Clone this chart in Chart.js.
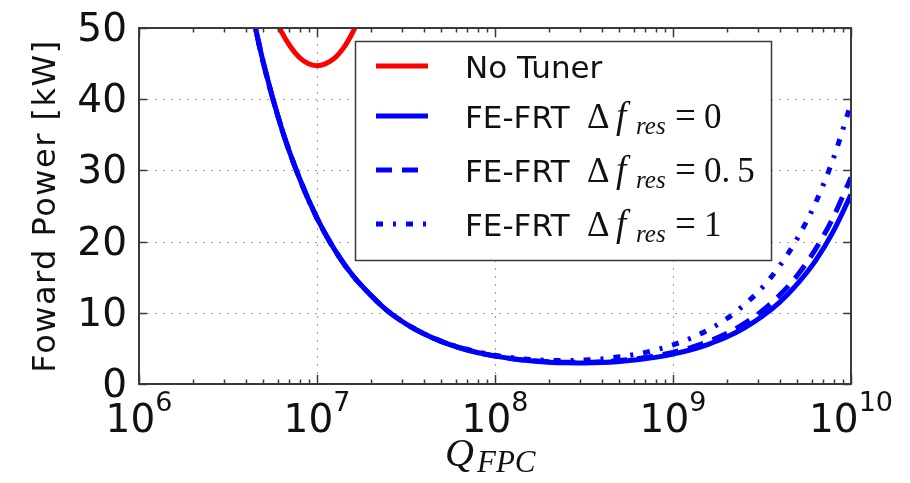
<!DOCTYPE html>
<html>
<head>
<meta charset="utf-8">
<script src="https://cdn.jsdelivr.net/npm/chart.js@4.4.0/dist/chart.umd.min.js"></script>
<style>
  html, body { margin: 0; padding: 0; background: #fff; }
  canvas { display: block; }
</style>
</head>
<body>
<canvas id="powerChart" width="910" height="483"></canvas>
<script>
// Q_FPC sample points (0.1 decade steps) for the FE-FRT curves
const qFpc = [
  3.98e6, 5.01e6, 6.31e6, 7.94e6, 1e7, 1.26e7, 1.58e7, 2.00e7, 2.51e7, 3.16e7,
  3.98e7, 5.01e7, 6.31e7, 7.94e7, 1e8, 1.26e8, 1.58e8, 2.00e8, 2.51e8, 3.16e8,
  3.98e8, 5.01e8, 6.31e8, 7.94e8, 1e9, 1.26e9, 1.58e9, 2.00e9, 2.51e9, 3.16e9,
  3.98e9, 5.01e9, 6.31e9, 7.94e9, 1e10
];
// forward power [kW], FE-FRT with Δf_res = 0 / 0.5 / 1
const powerDf0 = [
  56.3, 45.0, 36.0, 29.0, 23.3, 18.8, 15.3, 12.5, 10.2, 8.45,
  7.05, 5.95, 5.09, 4.42, 3.91, 3.53, 3.25, 3.07, 2.98, 2.96,
  3.02, 3.17, 3.40, 3.74, 4.20, 4.81, 5.58, 6.59, 7.86, 9.47,
  11.5, 14.1, 17.3, 21.4, 26.6
];
const powerDf05 = [
  56.3, 45.0, 36.0, 29.0, 23.3, 18.8, 15.3, 12.5, 10.2, 8.46,
  7.06, 5.96, 5.10, 4.44, 3.93, 3.56, 3.29, 3.12, 3.04, 3.04,
  3.12, 3.29, 3.56, 3.94, 4.45, 5.12, 5.97, 7.08, 8.48, 10.25,
  12.5, 15.3, 18.9, 23.4, 29.0
];
const powerDf1 = [
  56.3, 45.0, 36.0, 29.0, 23.3, 18.8, 15.3, 12.5, 10.2, 8.47,
  7.08, 6.00, 5.15, 4.52, 4.04, 3.69, 3.45, 3.33, 3.30, 3.37,
  3.53, 3.82, 4.21, 4.76, 5.49, 6.43, 7.62, 9.16, 11.1, 13.5,
  16.6, 20.5, 25.4, 31.6, 39.4
];
// No Tuner: only the part near its minimum fits under 50 kW
const qNoTuner = [5.01e6, 5.62e6, 6.31e6, 7.08e6, 7.94e6, 8.91e6, 1e7, 1.12e7, 1.26e7, 1.41e7, 1.58e7, 1.78e7];
const powerNoTuner = [55.6, 52.2, 49.5, 47.4, 45.9, 45.0, 44.7, 45.0, 45.8, 47.2, 49.3, 52.0];

const xDecades = [6, 7, 8, 9, 10];
const yTicks = [0, 10, 20, 30, 40, 50];
const legendNames = ['No Tuner', 'FE-FRT', 'FE-FRT', 'FE-FRT'];
const legendDf = [null, '0', '0.\u20095', '1'];

const SANS = '"DejaVu Sans", sans-serif';
const SERIF = '"Liberation Serif", "DejaVu Serif", serif';

const toPoints = (xs, ys) => xs.map((x, i) => ({ x, y: ys[i] }));

// grid, inward ticks, frame, labels and the legend box
const decorations = {
  id: 'decorations',
  beforeDatasetsDraw(chart) {
    const { ctx, chartArea: a, scales: { x, y } } = chart;
    ctx.save();
    ctx.strokeStyle = '#a0a0a0';
    ctx.lineWidth = 1;
    ctx.setLineDash([2, 6]);
    xDecades.slice(1, -1).forEach(d => {
      const px = Math.round(x.getPixelForValue(Math.pow(10, d))) + 0.5;
      ctx.beginPath(); ctx.moveTo(px, a.top); ctx.lineTo(px, a.bottom); ctx.stroke();
    });
    yTicks.slice(1, -1).forEach(v => {
      const py = Math.round(y.getPixelForValue(v)) + 0.5;
      ctx.beginPath(); ctx.moveTo(a.left, py); ctx.lineTo(a.right, py); ctx.stroke();
    });
    ctx.restore();
  },
  afterDatasetsDraw(chart) {
    const { ctx, chartArea: a, scales: { x, y } } = chart;
    ctx.save();
    ctx.strokeStyle = '#3a3a3a';
    ctx.lineWidth = 1.5;
    // x ticks: decades long, 2..9 short, on bottom and top
    for (let d = 6; d <= 10; d++) {
      for (let k = 1; k <= (d < 10 ? 9 : 1); k++) {
        const px = Math.round(x.getPixelForValue(k * Math.pow(10, d))) + 0.5;
        const len = k === 1 ? 9 : 4.5;
        ctx.beginPath();
        ctx.moveTo(px, a.bottom); ctx.lineTo(px, a.bottom - len);
        ctx.moveTo(px, a.top); ctx.lineTo(px, a.top + len);
        ctx.stroke();
      }
    }
    yTicks.forEach(v => {
      const py = Math.round(y.getPixelForValue(v)) + 0.5;
      ctx.beginPath();
      ctx.moveTo(a.left, py); ctx.lineTo(a.left + 8, py);
      ctx.moveTo(a.right, py); ctx.lineTo(a.right - 8, py);
      ctx.stroke();
    });
    ctx.lineWidth = 2;
    ctx.strokeRect(a.left, a.top, a.right - a.left, a.bottom - a.top);

    // legend
    const box = { x: 355, y: 41, w: 416, h: 219 };
    ctx.fillStyle = '#fff';
    ctx.fillRect(box.x, box.y, box.w, box.h);
    ctx.lineWidth = 1.5;
    ctx.strokeStyle = '#3a3a3a';
    ctx.strokeRect(box.x + 0.5, box.y + 0.5, box.w, box.h);
    const rows = [78, 128, 182, 236];
    chart.data.datasets.forEach((ds, i) => {
      const base = rows[i];
      ctx.save();
      ctx.strokeStyle = ds.borderColor;
      ctx.lineWidth = ds.borderWidth;
      ctx.setLineDash(ds.borderDash || []);
      ctx.beginPath();
      ctx.moveTo(376, base - 12); ctx.lineTo(428, base - 12);
      ctx.stroke();
      ctx.restore();

      ctx.fillStyle = '#111';
      ctx.textAlign = 'left';
      ctx.textBaseline = 'alphabetic';
      ctx.font = '31px ' + SANS;
      ctx.fillText(legendNames[i], 465, base);
      if (legendDf[i] !== null) {
        ctx.font = '35px ' + SERIF;
        ctx.fillText('\u0394', 587, base);
        ctx.font = 'italic 37px ' + SERIF;
        ctx.fillText('f', 616, base);
        ctx.font = 'italic 25px ' + SERIF;
        ctx.fillText('res', 636, base + 6);
        ctx.font = '37px ' + SERIF;
        ctx.fillText('=', 675, base);
        ctx.font = '35px ' + SERIF;
        ctx.fillText(legendDf[i], 704, base);
      }
    });
    ctx.restore();
  },
  afterDraw(chart) {
    const { ctx, chartArea: a, scales: { x, y } } = chart;
    ctx.save();
    ctx.fillStyle = '#111';
    ctx.textBaseline = 'alphabetic';

    // y tick labels
    ctx.font = '39px ' + SANS;
    ctx.textAlign = 'right';
    yTicks.forEach(v => ctx.fillText(String(v), a.left - 12, y.getPixelForValue(v) + 13));

    // x tick labels as 10^n
    ctx.textAlign = 'left';
    xDecades.forEach(d => {
      const px = x.getPixelForValue(Math.pow(10, d));
      ctx.font = '39px ' + SANS;
      const wb = ctx.measureText('10').width;
      ctx.font = '27px ' + SANS;
      const we = ctx.measureText(String(d)).width;
      const x0 = px - (wb + we) / 2;
      ctx.font = '39px ' + SANS;
      ctx.fillText('10', x0, 432);
      ctx.font = '27px ' + SANS;
      ctx.fillText(String(d), x0 + wb, 411);
    });

    // x axis title Q_FPC
    ctx.font = 'italic 40px ' + SERIF;
    ctx.fillText('Q', 445, 466);
    ctx.font = 'italic 31px ' + SERIF;
    ctx.fillText('FPC', 477, 472);

    // y axis title
    ctx.translate(55, (a.top + a.bottom) / 2);
    ctx.rotate(-Math.PI / 2);
    ctx.textAlign = 'center';
    ctx.font = '32px ' + SANS;
    ctx.letterSpacing = '1.5px';
    ctx.fillText('Foward Power [kW]', 0, 0);
    ctx.restore();
  }
};

new Chart(document.getElementById('powerChart'), {
  type: 'line',
  data: {
    datasets: [
      { label: 'No Tuner', data: toPoints(qNoTuner, powerNoTuner), borderColor: '#ff0000', borderWidth: 5, borderDash: [] },
      { label: 'FE-FRT Δf_res = 0', data: toPoints(qFpc, powerDf0), borderColor: '#0000ff', borderWidth: 5, borderDash: [] },
      { label: 'FE-FRT Δf_res = 0.5', data: toPoints(qFpc, powerDf05), borderColor: '#0000ff', borderWidth: 5, borderDash: [16, 10] },
      { label: 'FE-FRT Δf_res = 1', data: toPoints(qFpc, powerDf1), borderColor: '#0000ff', borderWidth: 5, borderDash: [7, 10, 3, 10] }
    ].map(ds => ({ ...ds, fill: false, clip: 0, pointRadius: 0 }))
  },
  options: {
    responsive: false,
    animation: false,
    layout: { padding: { left: 139, right: 59, top: 28, bottom: 99 } },
    scales: {
      x: { type: 'logarithmic', min: 1e6, max: 1e10, display: false },
      y: { type: 'linear', min: 0, max: 50, display: false }
    },
    elements: { line: { cubicInterpolationMode: 'monotone', borderCapStyle: 'butt' } },
    plugins: { legend: { display: false }, tooltip: { enabled: false } }
  },
  plugins: [decorations]
});
</script>
</body>
</html>
